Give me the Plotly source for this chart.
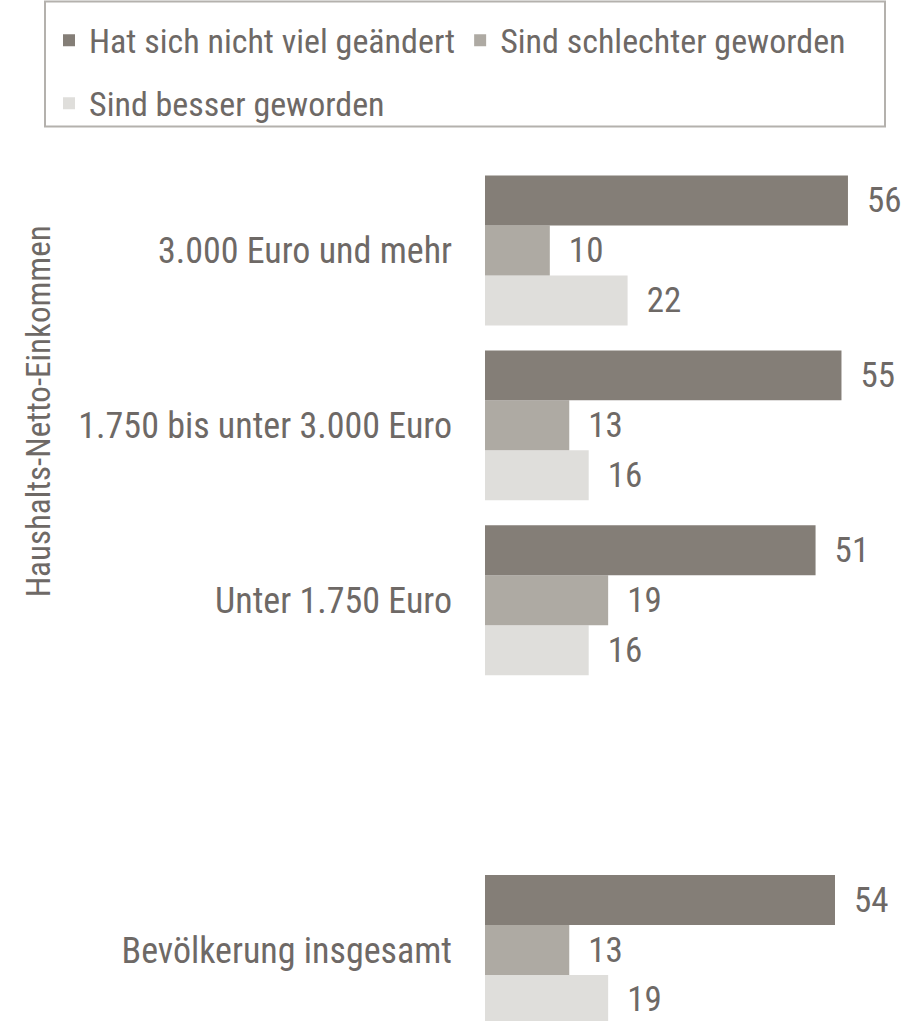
import plotly.graph_objects as go

categories = ["Bevölkerung insgesamt", " ", "Unter 1.750 Euro",
              "1.750 bis unter 3.000 Euro", "3.000 Euro und mehr"]
nicht_viel_geaendert = [54, None, 51, 55, 56]
schlechter = [13, None, 19, 13, 10]
besser = [19, None, 16, 16, 22]
series_names = ["Hat sich nicht viel geändert", "Sind schlechter geworden", "Sind besser geworden"]
legend_ids = ["legend", "legend", "legend2"]
axis_title = "Haushalts-Netto-Einkommen"

colors = ["#847e77", "#aeaaa3", "#dfdedb"]
text_color = "#6e6966"
FONT = "Roboto Condensed, Roboto, sans-serif"
FS_TICK = 36
FS_VAL = 35
FS_LEG = 34
FS_TITLE = 33

W, H = 914, 1021
L, R, T, B = 485, 9, 162.5, 0
PW, PH = W - L - R, H - T - B


def px_x(x):
    return (x - L) / PW


def px_y(y):
    return (H - B - y) / PH


fig = go.Figure()
# add in reverse so the first series sits on top of each group
series = list(zip(series_names, [nicht_viel_geaendert, schlechter, besser], colors, legend_ids))
for name, vals, col, lg in reversed(series):
    fig.add_trace(go.Bar(
        y=categories, x=vals, name=name, orientation="h", legend=lg,
        marker=dict(color=col, line=dict(width=0)),
        text=vals, texttemplate="\u00a0\u00a0%{x}", textposition="outside",
        constraintext="none", cliponaxis=False,
        textfont=dict(family=FONT, size=FS_VAL, color=text_color),
        hoverinfo="skip",
    ))

legend_common = dict(
    orientation="h", traceorder="reversed",
    xanchor="left", yanchor="middle",
    borderwidth=0, bgcolor="rgba(0,0,0,0)",
    font=dict(family=FONT, size=FS_LEG, color=text_color),
    itemwidth=30,
)

fig.update_layout(
    width=W, height=H,
    margin=dict(l=L, r=R, t=T, b=B, pad=0, autoexpand=False),
    barmode="group", bargap=0.143, bargroupgap=0,
    plot_bgcolor="white", paper_bgcolor="white",
    font=dict(family=FONT, size=FS_TICK, color=text_color),
    showlegend=True,
    legend=dict(x=px_x(49), y=px_y(40), **legend_common),
    legend2=dict(x=px_x(49), y=px_y(103), **legend_common),
    xaxis=dict(range=[0, 64.8], visible=False, fixedrange=True),
    yaxis=dict(
        type="category", categoryorder="array", categoryarray=categories,
        range=[-0.406, 4.5], showgrid=False, zeroline=False, showline=False,
        ticks="", ticklabelstandoff=32, automargin=False,
        tickfont=dict(family=FONT, size=FS_TICK, color=text_color),
    ),
    shapes=[dict(
        type="rect", xref="paper", yref="paper",
        x0=px_x(45), x1=px_x(885), y0=px_y(126), y1=px_y(1),
        line=dict(color="#b4b1ad", width=2), fillcolor="rgba(0,0,0,0)",
    )],
    annotations=[dict(
        text=axis_title, textangle=-90, showarrow=False,
        xref="paper", yref="y", x=px_x(38), y=3.08,
        xanchor="center", yanchor="middle",
        font=dict(family=FONT, size=FS_TITLE, color=text_color),
    )],
)

fig.write_html("out.html", config={"displayModeBar": False},
               post_script="document.body.style.margin='0';")
